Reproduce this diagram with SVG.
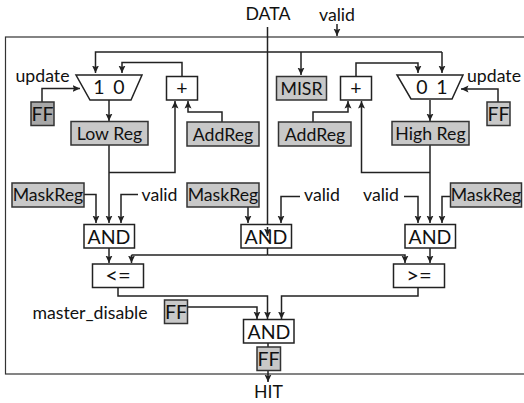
<svg xmlns="http://www.w3.org/2000/svg" width="524" height="403" viewBox="0 0 524 403">
<style>
text{font-family:"Lato","Open Sans","Liberation Sans",sans-serif;font-size:17.7px;fill:#111;text-anchor:middle}
text.l{font-size:19.500px}
text.o{font-size:22px}
.b{stroke:#222;stroke-width:1.500;fill:#fff}
.g{stroke:#333;stroke-width:1.500;fill:#c8c8c8}
.d{stroke:#333;stroke-width:1.500;fill:#a8a8a8}
#connectors path{fill:none;stroke:#222;stroke-width:1.500;marker-end:url(#a)}
#connectors path.n{marker-end:none}
</style>
<defs><marker id="a" viewBox="0 0 8 8" refX="7.500" refY="4" markerWidth="8" markerHeight="8" markerUnits="userSpaceOnUse" orient="auto"><path d="M0 0.500L7.500 4L0 7.500L1.500 4Z" fill="#222"/></marker></defs>
<rect id="frame" x="5.500" y="37" width="530" height="337" fill="#fff" stroke="#333" stroke-width="1.200"/>
<g id="connectors">
<path d="M337 24V36"/>
<path class="n" d="M267.500 27V255"/>
<path d="M442 52H95.500V73"/>
<path d="M301 52V75"/>
<path d="M442 52V73"/>
<path d="M182 76V62.500H122V73"/>
<path d="M356 76V63H418V73"/>
<path d="M42 102V88.500H80"/>
<path d="M498 102V89H461"/>
<path d="M109 100V121"/>
<path d="M430 100V121"/>
<path d="M109 145V223"/>
<path d="M109 172.500H175V101"/>
<path d="M430 145V223"/>
<path d="M430 172.500H361.500V101"/>
<path d="M222 122V112H188V101"/>
<path d="M313 122V112H348V101"/>
<path d="M84 194.500H96V223"/>
<path d="M138 194.500H121V223"/>
<path d="M248 207V223"/>
<path d="M300 196.500H281V223"/>
<path d="M404 196.500H418V223"/>
<path d="M450 196.500H442V223"/>
<path d="M109 248V263"/>
<path d="M430 248V263"/>
<path class="n" d="M267.500 255H131.500"/>
<path d="M131.500 255V263"/>
<path d="M267.500 255H405V263"/>
<path d="M118 287V296H267.500V319"/>
<path d="M418 287V296H281.500V319"/>
<path d="M187 307H257V319"/>
<path d="M268 343V382"/>
</g>
<g id="mux-left"><path class="b" d="M76 75H142L131 100H90Z"/><text class="l" x="99" y="94">1</text><text class="l" x="119" y="94">0</text></g>
<g id="mux-right"><path class="b" d="M397 75H463L452 99H411Z"/><text class="l" x="422" y="94">0</text><text class="l" x="442" y="94">1</text></g>
<g id="plus-left"><rect class="b" x="166.500" y="76.500" width="31" height="23.500"/><text class="l" x="182" y="95">+</text></g>
<g id="plus-right"><rect class="b" x="340.500" y="76.500" width="31" height="23.500"/><text class="l" x="356" y="95">+</text></g>
<g id="misr"><rect class="g" x="276.500" y="76.500" width="50" height="23.500"/><text x="301.500" y="95">MISR</text></g>
<g id="ff-left"><rect class="d" x="31" y="102" width="23" height="23.500"/><text class="l" x="42.500" y="120.500">FF</text></g>
<g id="ff-right"><rect class="g" x="487" y="102" width="23" height="23.500"/><text class="l" x="498.500" y="120.500">FF</text></g>
<g id="low-reg"><rect class="g" x="71" y="121.500" width="77" height="23.500"/><text x="109.500" y="140">Low Reg</text></g>
<g id="high-reg"><rect class="g" x="392" y="121.500" width="77" height="23.500"/><text x="430.500" y="140">High Reg</text></g>
<g id="addreg-left"><rect class="g" x="187" y="122" width="72" height="24"/><text x="223" y="141">AddReg</text></g>
<g id="addreg-right"><rect class="g" x="278.500" y="122" width="72.500" height="24"/><text x="315" y="141">AddReg</text></g>
<g id="maskreg-left"><rect class="g" x="12" y="183" width="72" height="24"/><text x="48" y="201">MaskReg</text></g>
<g id="maskreg-mid"><rect class="g" x="187" y="183" width="72" height="24"/><text x="223" y="201">MaskReg</text></g>
<g id="maskreg-right"><rect class="g" x="450.500" y="183" width="71" height="24"/><text x="486" y="201">MaskReg</text></g>
<g id="and-left"><rect class="b" x="84" y="224.500" width="50.500" height="23.500"/><text class="l" x="109" y="243.500">AND</text></g>
<g id="and-mid"><rect class="b" x="241" y="224.500" width="50.500" height="23.500"/><text class="l" x="266" y="243.500">AND</text></g>
<g id="and-right"><rect class="b" x="405" y="224.500" width="50.500" height="23.500"/><text class="l" x="430" y="243.500">AND</text></g>
<g id="le"><rect class="b" x="92.500" y="264" width="51" height="23.500"/><text class="o" x="118" y="283">&lt;=</text></g>
<g id="ge"><rect class="b" x="393.500" y="264" width="51" height="23.500"/><text class="o" x="419" y="283">&gt;=</text></g>
<g id="ff-disable"><rect class="g" x="164.500" y="300" width="23" height="23.500"/><text class="l" x="176" y="318.500">FF</text></g>
<g id="and-out"><rect class="b" x="243.500" y="319.500" width="50.500" height="23.500"/><text class="l" x="269" y="338.500">AND</text></g>
<g id="ff-out"><rect class="g" x="257" y="347" width="23.500" height="23.500"/><text class="l" x="268.500" y="365.500">FF</text></g>
<g id="data-arrow"><path d="M267.500 227V236" fill="none" stroke="#222" stroke-width="1.500" marker-end="url(#a)"/></g>
<g id="labels">
<text x="268" y="20">DATA</text>
<text x="337" y="21">valid</text>
<text x="42.500" y="82">update</text>
<text x="494" y="82">update</text>
<text x="159.500" y="201">valid</text>
<text x="322" y="201">valid</text>
<text x="381" y="201">valid</text>
<text x="90" y="319">master_disable</text>
<text x="268.500" y="398">HIT</text>
</g>
</svg>
